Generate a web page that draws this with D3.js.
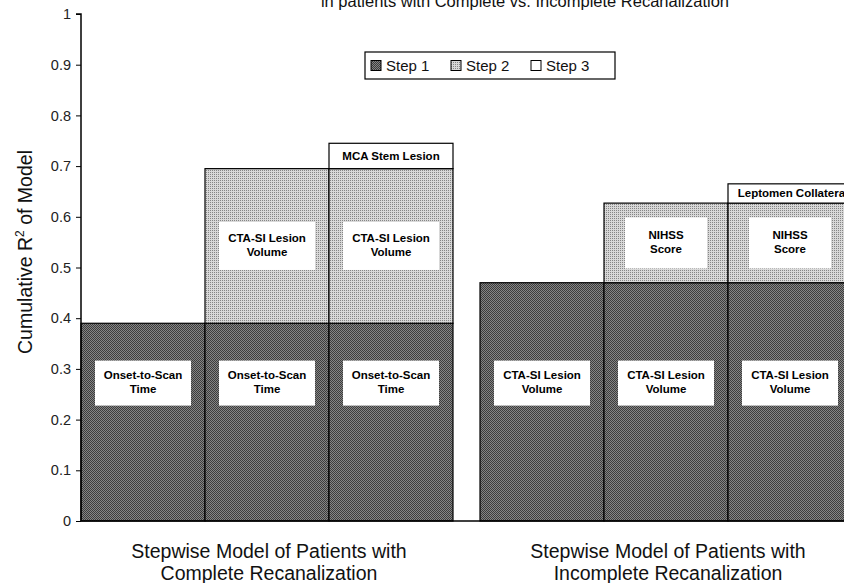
<!DOCTYPE html>
<html>
<head>
<meta charset="utf-8">
<script src="https://cdn.jsdelivr.net/npm/d3@7"></script>
<style>
  body { margin: 0; background: #fff; }
  svg { font-family: "Liberation Sans", Arial, sans-serif; }
</style>
</head>
<body>
<div id="chart"></div>
<script>
// ---- data ----
let groups = ["Complete", "Incomplete"];
let groupLabels = [
    ["Stepwise Model of Patients with", "Complete Recanalization"],
    ["Stepwise Model of Patients with", "Incomplete Recanalization"]
];
let models = ["Model 1", "Model 2", "Model 3"];
let stepNames = ["Step 1", "Step 2", "Step 3"];

// cumulative R^2 after each step, per group
let step1Values = [0.39, 0.47];
let step2Values = [0.695, 0.627];
let step3Values = [0.745, 0.665];

let step1Labels = [["Onset-to-Scan", "Time"], ["CTA-SI Lesion", "Volume"]];
let step2Labels = [["CTA-SI Lesion", "Volume"], ["NIHSS", "Score"]];
let step3Labels = ["MCA Stem Lesion", "Leptomen Collateral"];

let yTicks = [0, 0.1, 0.2, 0.3, 0.4, 0.5, 0.6, 0.7, 0.8, 0.9, 1];

// ---- drawing ----
let width = 844, height = 583;
let margin = {top: 14, left: 81, bottom: 62};

let svg = d3.select("#chart").append("svg")
    .attr("width", width)
    .attr("height", height);

// fill patterns (fine checker like the scanned hatch)
let defs = svg.append("defs");
let p1 = defs.append("pattern")
    .attr("id", "step1-fill")
    .attr("width", 2).attr("height", 2)
    .attr("patternUnits", "userSpaceOnUse");
p1.append("rect").attr("width", 2).attr("height", 2).attr("fill", "#858585");
p1.append("rect").attr("width", 1).attr("height", 1).attr("fill", "#3c3c3c");
p1.append("rect").attr("x", 1).attr("y", 1).attr("width", 1).attr("height", 1).attr("fill", "#3c3c3c");

let p2 = defs.append("pattern")
    .attr("id", "step2-fill")
    .attr("width", 2).attr("height", 2)
    .attr("patternUnits", "userSpaceOnUse");
p2.append("rect").attr("width", 2).attr("height", 2).attr("fill", "#d8d8d8");
p2.append("rect").attr("width", 1).attr("height", 1).attr("fill", "#858585");

let fills = ["url(#step1-fill)", "url(#step2-fill)", "#fff"];

let y = d3.scaleLinear()
    .domain([0, 1])
    .range([height - margin.bottom, margin.top]);

// groups of three bars, last bar runs past the right edge like the original
let x0 = d3.scaleBand()
    .domain(groups)
    .range([margin.left, 852])
    .paddingInner(27 / 399)
    .paddingOuter(0);

let x1 = d3.scaleBand()
    .domain(models)
    .range([0, x0.bandwidth()]);

// build segment list
let segments = [];
groups.forEach((g, gi) => {
    let cum = [0, step1Values[gi], step2Values[gi], step3Values[gi]];
    models.forEach((m, mi) => {
        for (let s = 0; s <= mi; s++) {
            segments.push({group: g, gi: gi, model: m, step: s, y0: cum[s], y1: cum[s + 1]});
        }
    });
});

let barsG = svg.append("g").attr("class", "bars");

barsG.selectAll("rect.seg")
    .data(segments)
    .enter().append("rect")
    .attr("class", "seg")
    .attr("x", d => x0(d.group) + x1(d.model))
    .attr("width", x1.bandwidth())
    .attr("y", d => y(d.y1))
    .attr("height", d => y(d.y0) - y(d.y1))
    .attr("fill", d => fills[d.step])
    .attr("stroke", "#000")
    .attr("stroke-width", 1.2);

// white label boxes inside the hatched segments
function labelBox(d) {
    let lines, cy;
    if (d.step === 0) {
        lines = step1Labels[d.gi];
        cy = y(0.272);
    } else {
        lines = step2Labels[d.gi];
        cy = (y(d.y0) + y(d.y1)) / 2;
    }
    return {lines: lines, cy: cy};
}

let inner = segments.filter(d => d.step < 2);
let labelG = barsG.selectAll("g.lbl")
    .data(inner)
    .enter().append("g")
    .attr("class", "lbl")
    .attr("transform", d => `translate(${x0(d.group) + x1(d.model) + x1.bandwidth() / 2}, ${labelBox(d).cy})`);

labelG.each(function(d) {
    let g = d3.select(this);
    let lines = labelBox(d).lines;
    let bw = lines[0] === "NIHSS" ? 82 : 96;
    let bh = lines[0] === "NIHSS" ? 51 : (d.step === 1 ? 48 : 45);
    g.append("rect")
        .attr("x", -bw / 2).attr("y", -bh / 2)
        .attr("width", bw).attr("height", bh)
        .attr("fill", "#fff");
    g.append("text")
        .attr("text-anchor", "middle")
        .attr("font-size", 11.5)
        .attr("font-weight", "bold")
        .attr("fill", "#000")
        .selectAll("tspan")
        .data(lines)
        .enter().append("tspan")
        .attr("x", 0)
        .attr("y", (t, i) => (i - (lines.length - 1) / 2) * 14 + 3)
        .text(t => t);
});

// step 3 labels
barsG.selectAll("text.s3")
    .data(segments.filter(d => d.step === 2))
    .enter().append("text")
    .attr("class", "s3")
    .attr("x", d => x0(d.group) + x1(d.model) + x1.bandwidth() / 2 + (d.gi === 1 ? 3 : 0))
    .attr("y", d => (y(d.y0) + y(d.y1)) / 2 + 4)
    .attr("text-anchor", "middle")
    .attr("font-size", 11.5)
    .attr("font-weight", "bold")
    .text(d => step3Labels[d.gi]);

// y axis
let yAxis = d3.axisLeft(y)
    .tickValues(yTicks)
    .tickSize(5)
    .tickFormat(d3.format(".1~f"));

let yG = svg.append("g")
    .attr("transform", `translate(${margin.left}, 0)`)
    .call(yAxis);
yG.select(".domain").attr("stroke", "#000").attr("stroke-width", 1.5).attr("d", `M-5,${y(1)}H0V${y(0)}`);
yG.selectAll(".tick line").attr("stroke", "#000");
yG.selectAll(".tick text")
    .attr("font-family", "Liberation Sans, Arial, sans-serif")
    .attr("font-size", 14.5)
    .attr("fill", "#222")
    .attr("x", -10);

// x axis baseline
svg.append("line")
    .attr("x1", margin.left).attr("x2", width)
    .attr("y1", y(0)).attr("y2", y(0))
    .attr("stroke", "#000").attr("stroke-width", 1.5);

// group labels
svg.selectAll("text.grp")
    .data(groups)
    .enter().append("text")
    .attr("class", "grp")
    .attr("text-anchor", "middle")
    .attr("font-size", 19.5)
    .attr("fill", "#111")
    .each(function(g, gi) {
        d3.select(this).selectAll("tspan")
            .data(groupLabels[gi])
            .enter().append("tspan")
            .attr("x", x0(g) + x0.bandwidth() / 2 + 2)
            .attr("y", (t, i) => 558 + i * 22)
            .text(t => t);
    });

// y axis title
svg.append("text")
    .attr("transform", `translate(32, 252) rotate(-90)`)
    .attr("text-anchor", "middle")
    .attr("font-size", 19.5)
    .attr("fill", "#111")
    .html('Cumulative R<tspan dy="-8" font-size="12">2</tspan><tspan dy="8"> of Model</tspan>');

// chart title (cut off at the top as in the source)
svg.append("text")
    .attr("x", 525)
    .attr("y", 7)
    .attr("text-anchor", "middle")
    .attr("font-size", 16.5)
    .attr("fill", "#111")
    .text("in patients with Complete vs. Incomplete Recanalization");

// legend
let legend = svg.append("g").attr("transform", "translate(365, 52)");
legend.append("rect")
    .attr("width", 250).attr("height", 27)
    .attr("fill", "#fff").attr("stroke", "#000").attr("stroke-width", 1.2);
let li = legend.selectAll("g.item")
    .data(stepNames)
    .enter().append("g")
    .attr("transform", (d, i) => `translate(${6 + i * 80}, 0)`);
li.append("rect")
    .attr("y", 8.5).attr("width", 10).attr("height", 10)
    .attr("fill", (d, i) => fills[i])
    .attr("stroke", "#000");
li.append("text")
    .attr("x", 15).attr("y", 19)
    .attr("font-size", 15)
    .attr("fill", "#111")
    .text(d => d);
</script>
</body>
</html>
